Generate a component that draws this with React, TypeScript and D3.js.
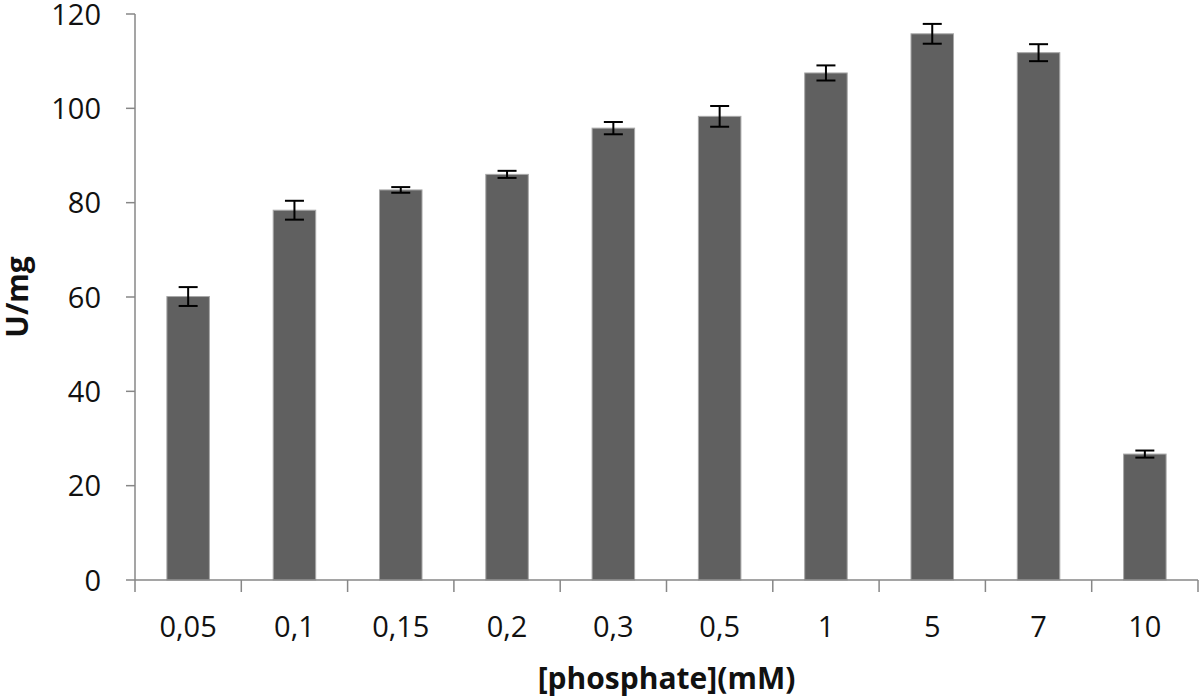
import React from "react";
import * as d3 from "d3";

const categories = ["0,05", "0,1", "0,15", "0,2", "0,3", "0,5", "1", "5", "7", "10"];
const values = [60.1, 78.4, 82.7, 86.0, 95.8, 98.3, 107.5, 115.8, 111.8, 26.7];
const errors = [2.0, 2.0, 0.6, 0.75, 1.3, 2.2, 1.6, 2.1, 1.8, 0.75];
const yTicks = [0, 20, 40, 60, 80, 100, 120];

const W = 1200;
const H = 700;
const left = 135;
const right = 1198;
const top = 14;
const bottom = 580;
const FONT = "'Open Sans', Lato, sans-serif";

export default function App() {
  const x = d3.scaleBand<string>().domain(categories).range([left, right]).paddingInner(0.6).paddingOuter(0.3);
  const xOuter = d3.scaleBand<string>().domain(categories).range([left, right]);
  const y = d3.scaleLinear().domain([0, 120]).range([bottom, top]);
  const axisColor = "#878787";

  return (
    <div style={{ position: "absolute", left: 0, top: 0 }}>
      <svg width={W} height={H} style={{ display: "block", background: "#fff" }}>
        {/* bars */}
        {categories.map((c, i) => (
          <rect
            key={c}
            x={x(c)}
            y={y(values[i])}
            width={x.bandwidth()}
            height={bottom - y(values[i])}
            fill="#606060"
            stroke="#a8a8a8"
            strokeWidth={1}
          />
        ))}
        {/* error bars */}
        {categories.map((c, i) => {
          const cx = (x(c) as number) + x.bandwidth() / 2;
          const y1 = y(values[i] + errors[i]);
          const y2 = y(values[i] - errors[i]);
          return (
            <g key={"e" + c} stroke="#000" strokeWidth={2}>
              <line x1={cx} x2={cx} y1={y1} y2={y2} />
              <line x1={cx - 9.5} x2={cx + 9.5} y1={y1} y2={y1} />
              <line x1={cx - 9.5} x2={cx + 9.5} y1={y2} y2={y2} />
            </g>
          );
        })}
        {/* y axis */}
        <line x1={left} x2={left} y1={y(120)} y2={bottom} stroke={axisColor} strokeWidth={1.5} />
        {yTicks.map((t) => (
          <g key={"y" + t}>
            <line x1={left - 9} x2={left} y1={y(t)} y2={y(t)} stroke={axisColor} strokeWidth={1.5} />
            <text
              x={101}
              y={y(t) + 10.5}
              textAnchor="end"
              fontFamily={FONT}
              fontSize={29}
              fill="#111"
            >
              {t}
            </text>
          </g>
        ))}
        {/* x axis */}
        <line x1={left} x2={right} y1={bottom} y2={bottom} stroke={axisColor} strokeWidth={1.5} />
        {categories.map((c) => (
          <line
            key={"xt" + c}
            x1={xOuter(c)}
            x2={xOuter(c)}
            y1={bottom}
            y2={bottom + 12}
            stroke={axisColor}
            strokeWidth={1.5}
          />
        ))}
        <line x1={right} x2={right} y1={bottom} y2={bottom + 12} stroke={axisColor} strokeWidth={1.5} />
        {categories.map((c) => (
          <text
            key={"xl" + c}
            x={(xOuter(c) as number) + xOuter.bandwidth() / 2}
            y={637}
            textAnchor="middle"
            fontFamily={FONT}
            fontSize={29}
            fill="#111"
          >
            {c}
          </text>
        ))}
        {/* axis titles */}
        <text
          x={(left + right) / 2}
          y={689}
          textAnchor="middle"
          fontFamily={FONT}
          fontWeight="bold"
          fontSize={30}
          fill="#111"
        >
          [phosphate](mM)
        </text>
        <text
          transform={`translate(28, ${(top + bottom) / 2}) rotate(-90)`}
          textAnchor="middle"
          fontFamily={FONT}
          fontWeight="bold"
          fontSize={30}
          fill="#111"
        >
          U/mg
        </text>
      </svg>
    </div>
  );
}
